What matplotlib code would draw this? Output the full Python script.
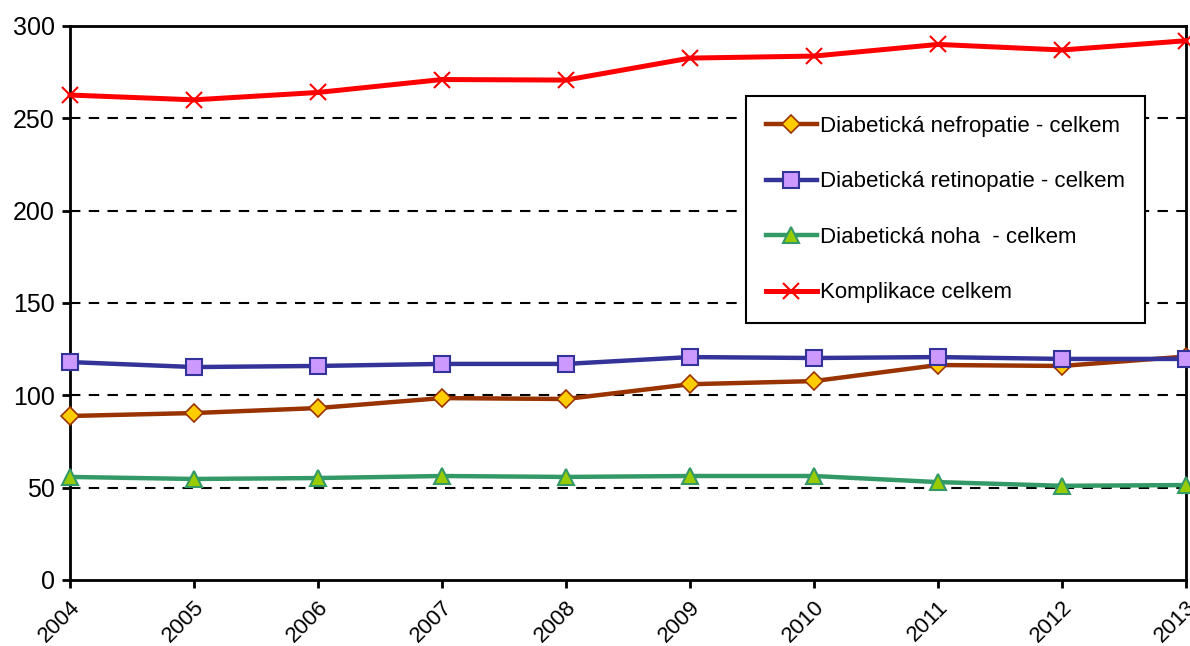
import matplotlib
matplotlib.use('Agg')
import matplotlib.pyplot as plt

plt.rcParams['font.family'] = ['Liberation Sans', 'DejaVu Sans']

years = [2004, 2005, 2006, 2007, 2008, 2009, 2010, 2011, 2012, 2013]
nefropatie = [88.8, 90.4, 93.1, 98.5, 98.0, 106.0, 107.7, 116.4, 115.9, 121.0]
retinopatie = [118.0, 115.3, 115.9, 117.0, 117.0, 120.7, 120.2, 120.7, 119.7, 119.7]
noha = [55.8, 54.7, 55.2, 56.3, 55.8, 56.3, 56.3, 53.0, 51.0, 51.4]
komplikace = [262.6, 260.0, 264.0, 271.0, 270.7, 282.6, 283.7, 290.0, 287.0, 292.0]

labels = ['Diabetická nefropatie - celkem', 'Diabetická retinopatie - celkem',
          'Diabetická noha  - celkem', 'Komplikace celkem']

fig = plt.figure(figsize=(11.9, 6.46), dpi=100)
ax = fig.add_axes([0.0588, 0.1022, 0.9378, 0.8576])

for y in [50, 100, 150, 200, 250]:
    ax.axhline(y, color='k', linestyle=(0, (5, 4)), linewidth=1.5, zorder=1)

ax.plot(years, nefropatie, color='#993300', linewidth=3.2, marker='D', markersize=9.5,
        markerfacecolor='#FFCC00', markeredgecolor='#993300', markeredgewidth=1.2,
        label=labels[0], clip_on=False, zorder=3)
ax.plot(years, retinopatie, color='#333399', linewidth=3.2, marker='s', markersize=12,
        markerfacecolor='#CC99FF', markeredgecolor='#333399', markeredgewidth=1.5,
        label=labels[1], clip_on=False, zorder=4)
ax.plot(years, noha, color='#339966', linewidth=3.2, marker='^', markersize=12,
        markerfacecolor='#99CC00', markeredgecolor='#339966', markeredgewidth=1.5,
        label=labels[2], clip_on=False, zorder=3)
ax.plot(years, komplikace, color='#FF0000', linewidth=3.6, marker='x', markersize=12,
        markeredgewidth=1.5, label=labels[3], clip_on=False, zorder=3)

ax.set_xlim(2004, 2013)
ax.set_ylim(0, 300)
ax.set_xticks(years)
ax.set_xticklabels([str(y) for y in years], rotation=45, ha='right', rotation_mode='anchor')
ax.set_yticks([0, 50, 100, 150, 200, 250, 300])
ax.tick_params(axis='both', width=2, length=6, direction='out')
ax.tick_params(axis='y', labelsize=18, pad=5)
ax.tick_params(axis='x', labelsize=16, pad=6)

for s in ax.spines.values():
    s.set_linewidth(2)

leg = ax.legend(loc='upper left', bbox_to_anchor=(0.6057, 0.8736), fontsize=16,
                frameon=True, fancybox=False, borderaxespad=0, labelspacing=1.55,
                handlelength=2.3, handletextpad=0.15, borderpad=0.9)
leg.get_frame().set_edgecolor('k')
leg.get_frame().set_linewidth(1.5)
leg.get_frame().set_alpha(1)

plt.savefig('out.png', dpi=100)
